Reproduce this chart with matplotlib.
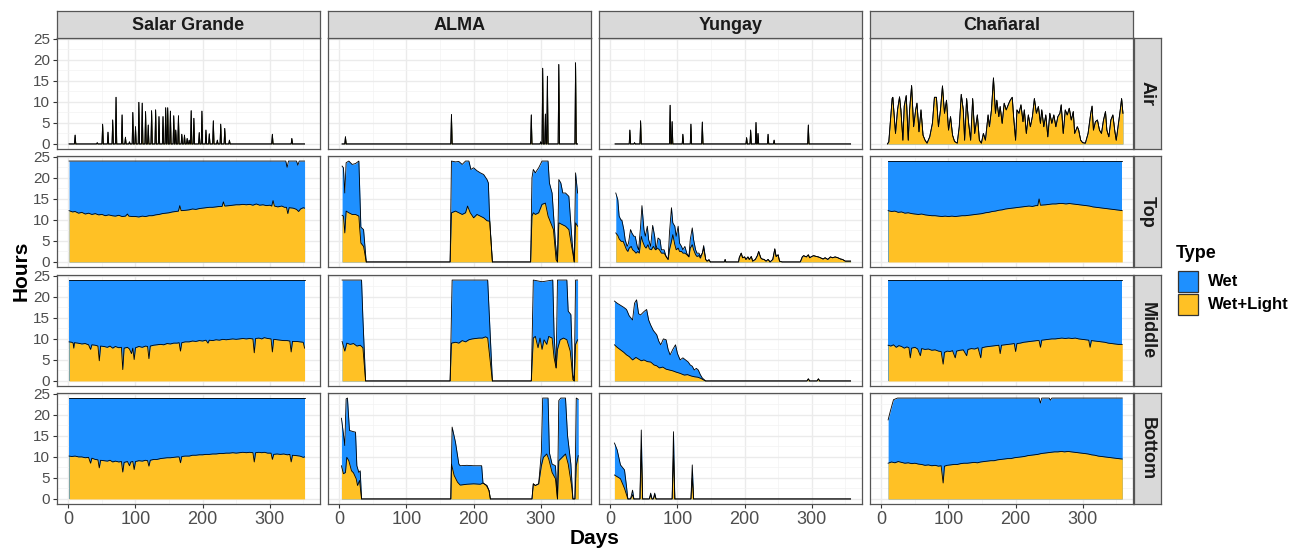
import matplotlib
matplotlib.use('Agg')
import numpy as np
import matplotlib.pyplot as plt
from matplotlib.patches import Rectangle

plt.rcParams['font.family'] = ['Liberation Sans', 'DejaVu Sans']

sites = ['Salar Grande', 'ALMA', 'Yungay', 'Chañaral']
levels = ['Air', 'Top', 'Middle', 'Bottom']
type_labels = ['Wet', 'Wet+Light']

# (day, hours) readings; "wet" is the stacked total, "light" the Wet+Light part

# --- Salar Grande ---
sg_range = (1, 352)
sg_air = [(10, 2.1), (43, 0.3), (51, 4.7), (59, 2.8), (66, 5.7), (71, 11.1), (80, 6.9), (85, 1.6),
          (91, 0.5), (96, 7.5), (100, 4.1), (105, 9.9), (110, 9.7), (115, 7.7), (119, 4.5), (124, 7.9),
          (130, 8.1), (135, 6.5), (141, 6.5), (145, 8.6), (148, 8.6), (152, 7.8), (157, 6.7), (160, 3.3),
          (164, 6.7), (169, 2.3), (173, 2.1), (177, 1.3), (180, 0.9), (183, 7.9), (187, 6.1), (195, 2.7),
          (199, 7.8), (205, 3.3), (210, 2.4), (216, 5.5), (222, 0.9), (227, 4.7), (233, 3.7), (240, 0.9),
          (304, 2.3), (333, 1.3)]
sg_top_wet = [(1, 24), (324, 24), (326, 22.5), (328, 24), (340, 24), (342, 23), (344, 24), (352, 24)]
sg_top_light = [(1, 12.2), (6, 11.9), (10, 12.0), (15, 11.6), (20, 11.8), (25, 11.4), (30, 11.6), (35, 11.3),
                (40, 11.5), (45, 11.2), (50, 11.3), (55, 11.0), (60, 11.2), (65, 11.0), (70, 10.9), (75, 11.1),
                (80, 10.8), (85, 10.9), (88, 11.4), (90, 10.9), (95, 10.8), (100, 10.8), (105, 10.7), (110, 10.9),
                (115, 10.8), (120, 11.0), (125, 11.0), (130, 11.2), (135, 11.3), (140, 11.5), (145, 11.6),
                (150, 11.7), (155, 11.9), (160, 12.0), (164, 12.1), (166, 13.4), (168, 12.2), (175, 12.3),
                (180, 12.4), (185, 12.6), (190, 12.5), (195, 12.7), (200, 12.8), (205, 12.9), (210, 13.0),
                (215, 13.0), (220, 13.1), (225, 13.2), (229, 13.2), (231, 14.3), (233, 13.3), (240, 13.4),
                (245, 13.5), (250, 13.6), (255, 13.6), (260, 13.7), (265, 13.6), (270, 13.7), (275, 13.5),
                (280, 13.8), (285, 13.5), (290, 13.6), (295, 13.4), (300, 13.5), (303, 13.3), (305, 14.6),
                (307, 13.3), (312, 13.1), (318, 13.3), (322, 13.0), (325, 13.0), (327, 11.5), (329, 12.9),
                (335, 12.8), (340, 12.5), (343, 12.0), (346, 12.6), (350, 12.9), (352, 12.8)]
sg_mid_wet = [(1, 24), (352, 24)]
sg_mid_light = [(1, 9.3), (5, 9.2), (7, 9.0), (8, 7.8), (9, 9.1), (14, 9.0), (20, 8.8), (25, 8.9), (30, 8.6),
                (33, 7.5), (35, 8.6), (40, 8.5), (44, 8.3), (46, 4.8), (48, 8.3), (53, 8.2), (58, 8.0), (62, 8.3),
                (66, 7.8), (70, 8.2), (75, 7.9), (79, 8.0), (81, 2.7), (83, 7.8), (88, 8.0), (91, 7.6), (94, 6.5),
                (96, 7.8), (98, 5.1), (100, 7.9), (105, 8.2), (110, 8.0), (115, 8.3), (118, 8.2), (120, 5.3),
                (122, 8.3), (127, 8.5), (132, 8.6), (137, 8.7), (142, 8.6), (147, 8.9), (152, 8.8), (157, 9.0),
                (162, 9.0), (165, 9.1), (167, 7.1), (169, 9.1), (174, 9.3), (180, 9.3), (185, 9.5), (190, 9.4),
                (195, 9.6), (200, 9.5), (205, 9.7), (208, 9.0), (210, 9.7), (215, 9.6), (220, 9.8), (225, 9.7),
                (230, 9.9), (235, 9.8), (240, 9.9), (245, 10.0), (250, 9.9), (255, 10.0), (260, 10.1),
                (265, 10.0), (270, 10.1), (275, 10.0), (277, 6.7), (279, 10.1), (284, 10.2), (288, 10.0),
                (292, 10.3), (297, 10.1), (302, 10.0), (304, 6.9), (306, 9.9), (311, 9.8), (316, 9.7), (321, 9.6),
                (326, 9.6), (330, 9.5), (332, 6.9), (334, 9.4), (340, 9.4), (345, 9.3), (350, 9.2), (352, 7.8)]
sg_bot_wet = [(1, 24), (352, 24)]
sg_bot_light = [(1, 10.2), (5, 10.1), (10, 10.2), (15, 10.0), (20, 10.0), (25, 9.8), (30, 9.9), (33, 8.5),
                (35, 9.7), (40, 9.4), (44, 9.3), (46, 7.4), (48, 9.2), (53, 9.1), (58, 9.0), (62, 9.2), (66, 8.8),
                (70, 9.0), (75, 8.8), (79, 8.9), (81, 6.4), (83, 8.7), (88, 8.9), (91, 7.9), (93, 8.8), (96, 8.9),
                (98, 7.0), (100, 8.9), (105, 9.1), (110, 9.0), (115, 9.2), (118, 9.1), (120, 7.8), (122, 9.2),
                (127, 9.4), (132, 9.4), (137, 9.6), (142, 9.7), (147, 9.8), (152, 9.8), (157, 9.9), (162, 10.0),
                (165, 10.0), (167, 8.6), (169, 10.1), (174, 10.2), (180, 10.2), (185, 10.4), (190, 10.4),
                (195, 10.5), (200, 10.5), (205, 10.6), (210, 10.6), (215, 10.7), (220, 10.7), (225, 10.8),
                (230, 10.8), (235, 10.9), (240, 10.9), (245, 11.0), (250, 10.9), (255, 11.0), (260, 11.1),
                (265, 11.0), (270, 11.1), (275, 11.0), (277, 8.8), (279, 11.0), (284, 11.1), (288, 11.0),
                (292, 11.1), (297, 10.9), (302, 10.9), (304, 9.4), (306, 10.6), (311, 10.7), (316, 10.6),
                (321, 10.7), (326, 10.5), (330, 10.6), (332, 8.8), (334, 10.4), (340, 10.3), (345, 10.2),
                (350, 9.9), (352, 10.0)]

# --- ALMA ---
al_range = (4, 355)
al_air = [(9, 1.7), (167, 7.0), (286, 6.9), (300, 0.5), (303, 18.0), (307, 7.1), (310, 16.1), (327, 18.9),
          (352, 19.3)]
al_top_wet = [(4, 22.8), (6, 22.4), (8, 16.4), (10, 23.6), (14, 24), (19, 23.2), (24, 23.4), (29, 24),
              (30, 18.8), (32, 8.3), (36, 7.7), (40, 0), (165, 0), (167, 24), (173, 23.8), (178, 23.9),
              (183, 23.2), (188, 24), (193, 24), (196, 22), (200, 22.4), (205, 21.7), (210, 21.2), (215, 20.8),
              (220, 19.6), (222, 18.8), (224, 10), (228, 0), (285, 0), (287, 20), (289, 22), (292, 21.2),
              (297, 22.4), (302, 24), (307, 24), (311, 24), (313, 18.8), (317, 16.4), (322, 4.5), (325, 0),
              (327, 19.6), (330, 18.8), (333, 16.4), (337, 16.4), (342, 15.6), (347, 4.5), (350, 0), (352, 21.2),
              (355, 16.4)]
al_top_light = [(4, 11.1), (6, 10.9), (8, 6.9), (10, 12.1), (14, 11.7), (19, 11.3), (24, 11.3), (29, 10.9),
                (30, 8.5), (32, 4.5), (36, 3.7), (40, 0), (165, 0), (167, 11.7), (173, 12.1), (178, 11.7),
                (183, 11.3), (188, 11.7), (191, 13.3), (195, 11.7), (200, 10.5), (205, 11.3), (210, 10.9),
                (215, 10.5), (220, 9.8), (224, 9.7), (228, 0), (285, 0), (287, 10.9), (289, 11.7), (292, 11.3),
                (297, 11.7), (302, 13.7), (307, 14), (311, 10.9), (314, 9.7), (319, 7.7), (323, 0.5), (325, 0),
                (327, 9.3), (332, 8.9), (337, 8.5), (342, 7.7), (347, 2.9), (350, 0), (352, 9.3), (355, 8.5)]
al_mid_wet = [(4, 24), (33, 24), (35, 15), (39, 0), (165, 0), (168, 24), (221, 24), (228, 0), (286, 0),
              (289, 24), (302, 23.6), (318, 24), (320, 11), (323, 3.1), (325, 24), (339, 24), (341, 16.6),
              (345, 15.8), (348, 1.5), (350, 0), (352, 24), (355, 24)]
al_mid_light = [(4, 9.4), (8, 7.1), (11, 9.0), (16, 8.7), (21, 8.9), (26, 8.3), (31, 8.5), (35, 7.9), (39, 0),
                (165, 0), (167, 9.0), (173, 9.2), (178, 9.0), (183, 9.6), (188, 9.3), (193, 9.8), (198, 10.0),
                (203, 10.1), (208, 10.2), (213, 10.2), (218, 10.5), (221, 10.2), (228, 0), (286, 0), (289, 10.2),
                (292, 10.6), (296, 7.9), (299, 10.2), (302, 7.5), (305, 9.8), (309, 8.7), (312, 10.6),
                (317, 10.2), (320, 5.5), (323, 3.1), (325, 7.5), (329, 9.8), (334, 10.2), (339, 9.8), (344, 7.1),
                (346, 3.9), (348, 0.3), (350, 0), (352, 8.7), (355, 9.8)]
al_bot_wet = [(3, 19.2), (6, 15.5), (8, 12.7), (10, 23.8), (12, 24), (15, 16.3), (21, 16), (24, 15.9), (26, 7.9),
              (29, 6.3), (31, 6.7), (33, 0), (166, 0), (168, 17.1), (173, 13.5), (178, 8.3), (180, 7.9),
              (190, 8.0), (200, 7.9), (212, 7.9), (214, 3.8), (220, 3.2), (223, 2), (225, 0), (287, 0),
              (289, 3.6), (292, 3.2), (297, 3.6), (301, 11.1), (303, 24), (311, 24), (313, 11), (317, 8.3),
              (322, 7.9), (325, 0), (327, 23.4), (330, 24), (337, 24), (340, 15.1), (345, 8.3), (348, 0),
              (351, 0), (353, 24), (356, 23.7)]
al_bot_light = [(3, 7.9), (6, 6), (9, 6.3), (11, 9.9), (14, 9.1), (18, 6.7), (21, 6.2), (25, 4.8), (27, 3.2),
                (30, 4.4), (33, 0), (166, 0), (167, 8.3), (171, 5.6), (176, 4), (180, 3.3), (190, 3.5),
                (200, 3.6), (210, 3.5), (214, 3.8), (219, 3.2), (223, 2), (225, 0), (287, 0), (289, 3.6),
                (292, 3.2), (297, 3.6), (301, 7.9), (304, 9.9), (309, 10.7), (312, 9.5), (317, 6.3), (322, 4.8),
                (325, 0), (327, 9.1), (332, 9.9), (337, 10.7), (341, 8.3), (346, 3.2), (348, 0), (351, 0),
                (353, 7.9), (356, 10.3)]

# --- Yungay ---
yu_range = (7, 358)
yu_air = [(29, 3.3), (36, 0.3), (45, 5.5), (89, 9.2), (92, 5.3), (108, 2.3), (120, 4.7), (137, 5.2),
          (203, 1.5), (209, 3.3), (217, 5.1), (220, 2.5), (235, 2.3), (244, 0.9), (295, 4.5)]
yu_top_wet = [(8, 16.4), (11, 14.8), (13, 10.9), (16, 9.9), (17, 10.0), (20, 7.7), (22, 5.3), (25, 3.7),
              (27, 4.5), (30, 7.7), (32, 6.9), (35, 6.1), (37, 6.1), (40, 3.7), (42, 2.9), (45, 8.5), (47, 13.4),
              (50, 7.7), (52, 6.1), (55, 8.5), (57, 5.3), (60, 3.7), (63, 8.7), (66, 6.1), (68, 2.9), (71, 5.7),
              (74, 5.3), (76, 2.9), (80, 2.9), (83, 1.3), (86, 0.6), (88, 6.9), (91, 12.9), (93, 9.3), (96, 8.5),
              (98, 6.1), (101, 8.5), (103, 4.5), (106, 3.7), (108, 2.9), (111, 3.7), (114, 2.0), (117, 1.3),
              (119, 5.3), (122, 8.1), (124, 5.3), (127, 2.9), (129, 2.1), (132, 2.1), (134, 1.3), (137, 2.1),
              (139, 3.9), (142, 0.6), (144, 0.2), (147, 0.6), (149, 0)]
yu_top_light = [(8, 6.9), (11, 6.3), (13, 5.5), (16, 4.9), (19, 4.9), (21, 4.1), (24, 2.9), (26, 2.5),
                (28, 3.3), (31, 3.7), (33, 2.9), (36, 2.5), (38, 2.1), (41, 2.5), (43, 2.1), (46, 6.1), (48, 4.9),
                (51, 3.7), (53, 3.3), (56, 4.1), (58, 3.1), (61, 2.9), (64, 3.7), (67, 2.9), (70, 3.3), (73, 2.9),
                (76, 2.1), (80, 2.1), (83, 1.3), (86, 0.6), (88, 2.9), (91, 4.9), (93, 6.5), (96, 4.1), (98, 2.9),
                (101, 3.3), (103, 2.5), (106, 2.5), (108, 2.1), (111, 2.1), (114, 1.7), (117, 1.2), (119, 3.3),
                (122, 4.1), (124, 2.9), (127, 1.7), (129, 1.3), (132, 1.5), (134, 0.9), (137, 2.1), (139, 3.3),
                (142, 0.6), (144, 0.2), (147, 0.4), (149, 0)]
yu_top_tail = [(170, 0), (171, 0.6), (172, 0), (191, 0), (192, 1.0), (195, 2.1), (197, 1.0), (200, 1.2),
               (202, 0.6), (205, 1.2), (207, 0.6), (210, 1.3), (212, 0.2), (216, 0.6), (219, 1.5), (221, 2.5),
               (224, 1.0), (226, 0.7), (229, 0.6), (232, 0.2), (235, 0.6), (238, 0), (242, 0.6), (245, 3.1),
               (247, 1.3), (250, 1.7), (252, 0.2), (256, 0), (283, 0), (286, 1.2), (288, 1.5), (292, 1.2),
               (295, 1.7), (297, 1.0), (300, 1.3), (303, 1.5), (307, 1.3), (310, 1.2), (313, 1.0), (317, 0.7),
               (320, 1.0), (324, 0.6), (328, 1.2), (331, 1.0), (335, 1.2), (339, 1.0), (343, 0.7), (346, 0.6),
               (350, 0.2), (354, 0.2), (358, 0.2)]
yu_mid_wet = [(6, 19), (10, 18.5), (15, 18), (20, 17.5), (24, 17), (28, 15.5), (33, 14.5), (36, 18.5),
              (39, 19.3), (42, 16), (45, 15.7), (50, 16.5), (54, 17), (57, 14.5), (60, 13.3), (64, 12), (69, 11),
              (72, 9.5), (75, 8.6), (79, 10), (83, 9.8), (86, 7.5), (89, 6.2), (93, 7.5), (97, 8.6), (100, 6.5),
              (104, 5), (108, 5.5), (112, 5), (116, 4.5), (119, 3.8), (122, 3.5), (125, 2.6), (128, 3.0),
              (131, 2.6), (134, 1.5), (137, 0.7), (142, 0), (293, 0), (295, 0.5), (297, 0), (308, 0), (310, 0.5),
              (312, 0), (358, 0)]
yu_mid_light = [(6, 8.6), (10, 8.0), (15, 7.4), (20, 6.8), (24, 6.2), (28, 5.8), (33, 5.0), (38, 5.6),
                (42, 5.2), (46, 4.8), (50, 5.0), (55, 4.6), (60, 4.5), (65, 3.8), (69, 3.6), (73, 3.1), (78, 3.3),
                (83, 2.8), (88, 2.6), (93, 2.4), (98, 2.1), (104, 1.8), (110, 1.4), (115, 1.5), (120, 1.2),
                (125, 1.0), (130, 0.9), (135, 0.6), (138, 0.3), (142, 0), (293, 0), (295, 0.5), (297, 0),
                (308, 0), (310, 0.5), (312, 0), (358, 0)]
yu_bot_wet = [(6, 13.3), (10, 11.7), (15, 8.1), (21, 6.9), (24, 3), (26, 0), (30, 0), (33, 2.1), (35, 0),
              (44, 0), (46, 16.4), (48, 0), (58, 0), (60, 1.4), (62, 0), (64, 0), (66, 1.4), (68, 0), (92, 0),
              (94, 16), (96, 0), (120, 0), (122, 8.1), (124, 0), (358, 0)]
yu_bot_light = [(6, 5.7), (10, 5.3), (15, 4.8), (21, 2.5), (24, 1), (26, 0), (30, 0), (33, 1.0), (35, 0),
                (44, 0), (46, 11.7), (48, 0), (58, 0), (60, 1.0), (62, 0), (64, 0), (66, 1.0), (68, 0), (92, 0),
                (94, 10.5), (96, 0), (120, 0), (122, 5), (124, 0), (358, 0)]

# --- Chañaral ---
ch_air = [(9, 0), (11, 0.5), (16, 10.8), (17, 11.1), (21, 2.5), (24, 8.1), (27, 11.2), (29, 8.1), (32, 0.9),
          (34, 9.0), (37, 11.5), (40, 0.9), (42, 8.1), (45, 13.9), (48, 4.1), (51, 8.1), (53, 9.7), (56, 2.9),
          (59, 8.1), (62, 2.1), (65, 0.9), (68, 0.2), (72, 1.7), (76, 4.9), (79, 11.1), (82, 11.1), (85, 4.1),
          (88, 8.1), (91, 13.8), (94, 7.3), (97, 10.4), (100, 3.3), (103, 6.5), (106, 2.1), (109, 0.6),
          (113, 0.2), (116, 4.1), (119, 11.8), (122, 8.1), (124, 0.9), (127, 10.8), (130, 4.9), (133, 0.9),
          (136, 10.8), (139, 2.5), (143, 6.9), (146, 0.9), (149, 0.2), (152, 2.5), (155, 0.9), (159, 6.9),
          (161, 4.1), (164, 8.1), (167, 15.7), (170, 7.3), (172, 10.4), (175, 6.5), (177, 8.9), (180, 4.9),
          (183, 9.7), (186, 8.1), (190, 9.7), (192, 10.4), (195, 11.1), (197, 6.5), (200, 0.9), (202, 8.1),
          (205, 7.3), (208, 9.3), (211, 5.3), (213, 8.1), (216, 2.5), (219, 6.9), (222, 4.1), (225, 6.5),
          (228, 10.8), (231, 7.3), (234, 8.9), (237, 4.9), (239, 8.1), (242, 4.1), (245, 6.9), (248, 1.7),
          (251, 7.3), (254, 4.9), (257, 6.9), (260, 4.1), (263, 6.5), (266, 7.3), (268, 9.3), (271, 2.5),
          (274, 8.1), (277, 6.9), (280, 8.5), (283, 5.7), (286, 7.7), (288, 2.5), (292, 4.1), (294, 3.3),
          (297, 0.9), (300, 0.3), (304, 0.2), (308, 2.5), (312, 7.3), (314, 9.0), (316, 3.3), (319, 5.3),
          (322, 5.7), (325, 3.3), (328, 2.5), (331, 5.7), (334, 7.7), (336, 3.3), (339, 1.7), (342, 5.7),
          (345, 6.9), (348, 2.9), (350, 0.9), (354, 5.7), (356, 8.1), (358, 10.8), (360, 7.3)]
ch_top_wet = [(10, 24), (359, 24)]
ch_top_light = [(10, 12.2), (15, 12.0), (20, 12.1), (25, 11.8), (30, 11.9), (35, 11.6), (40, 11.7), (45, 11.5),
                (50, 11.4), (55, 11.3), (60, 11.4), (65, 11.2), (70, 11.1), (75, 11.0), (80, 11.0), (85, 10.9),
                (90, 10.8), (95, 10.9), (100, 10.8), (105, 10.9), (110, 10.8), (115, 10.9), (120, 11.0),
                (125, 11.0), (130, 11.1), (135, 11.2), (140, 11.3), (145, 11.4), (150, 11.5), (155, 11.7),
                (160, 11.8), (165, 12.0), (170, 12.1), (175, 12.3), (180, 12.4), (185, 12.6), (190, 12.7),
                (195, 12.8), (200, 12.9), (205, 13.0), (210, 13.1), (215, 13.2), (220, 13.3), (225, 13.2),
                (230, 13.4), (233, 13.4), (235, 15.0), (237, 13.5), (245, 13.6), (250, 13.7), (255, 13.8),
                (260, 13.8), (265, 13.9), (270, 13.9), (275, 13.8), (280, 13.9), (285, 13.8), (290, 13.7),
                (295, 13.6), (300, 13.5), (305, 13.4), (310, 13.3), (315, 13.1), (320, 13.0), (325, 12.9),
                (330, 12.8), (335, 12.7), (340, 12.6), (345, 12.5), (350, 12.4), (355, 12.3), (359, 12.2)]
ch_mid_wet = [(10, 24), (359, 24)]
ch_mid_light = [(10, 8.5), (14, 8.3), (18, 8.6), (22, 8.0), (26, 8.4), (30, 8.2), (34, 7.8), (38, 8.1),
                (41, 7.9), (43, 5.5), (45, 7.8), (50, 8.0), (54, 7.6), (58, 6.0), (60, 7.7), (65, 7.5), (70, 7.6),
                (75, 7.3), (80, 7.4), (85, 7.1), (89, 7.0), (92, 4.0), (94, 6.8), (98, 7.1), (102, 7.0),
                (106, 7.2), (110, 5.5), (112, 7.1), (117, 7.3), (122, 7.4), (127, 6.0), (129, 7.5), (134, 7.7),
                (139, 7.6), (144, 7.9), (148, 5.5), (150, 7.9), (155, 8.1), (160, 8.2), (165, 8.3), (170, 8.4),
                (175, 8.5), (177, 6.5), (179, 8.5), (184, 8.6), (189, 8.7), (194, 8.8), (198, 8.9), (200, 7.0),
                (202, 8.9), (207, 9.0), (212, 9.2), (217, 9.3), (222, 9.4), (227, 9.5), (232, 9.6), (235, 9.6),
                (237, 8.0), (239, 9.7), (244, 9.8), (249, 9.9), (254, 10.0), (259, 10.0), (264, 10.1),
                (269, 10.2), (274, 10.1), (279, 10.2), (284, 10.1), (289, 10.2), (294, 10.0), (299, 9.9),
                (304, 9.8), (309, 9.7), (311, 8.0), (313, 9.6), (318, 9.5), (323, 9.4), (328, 9.3), (333, 9.2),
                (338, 9.0), (343, 8.9), (348, 8.8), (353, 8.7), (359, 8.7)]
ch_bot_wet = [(10, 18.8), (13, 20.7), (18, 23.6), (24, 24), (235, 24), (237, 22.8), (239, 24), (250, 24),
              (252, 23.5), (254, 24), (359, 24)]
ch_bot_light = [(10, 8.5), (15, 8.8), (20, 8.6), (25, 8.9), (30, 8.7), (35, 8.5), (40, 8.6), (45, 8.4),
                (50, 8.5), (55, 8.3), (60, 8.2), (65, 8.0), (70, 8.1), (75, 7.9), (80, 8.0), (85, 7.8), (89, 7.9),
                (92, 3.8), (94, 7.8), (98, 8.0), (103, 8.1), (108, 8.2), (113, 8.2), (118, 8.4), (123, 8.5),
                (128, 8.5), (133, 8.6), (138, 8.7), (143, 8.6), (148, 8.8), (153, 8.9), (158, 9.0), (163, 9.1),
                (168, 9.1), (173, 9.3), (178, 9.4), (183, 9.5), (188, 9.6), (193, 9.6), (198, 9.8), (203, 9.9),
                (208, 10.0), (213, 10.1), (218, 10.3), (223, 10.4), (228, 10.5), (233, 10.6), (238, 10.8),
                (243, 10.9), (248, 11.0), (253, 11.1), (258, 11.2), (263, 11.2), (268, 11.3), (273, 11.2),
                (278, 11.3), (283, 11.2), (288, 11.1), (293, 11.0), (298, 10.9), (303, 10.8), (308, 10.7),
                (313, 10.5), (318, 10.4), (323, 10.2), (328, 10.1), (333, 10.0), (338, 9.9), (343, 9.8),
                (348, 9.7), (353, 9.6), (359, 9.5)]


def spikes(pairs, day_range):
    # daily series: zero except the listed days
    pts = [(day_range[0], 0)]
    for d, h in pairs:
        pts += [(d - 1, 0), (d, h), (d + 1, 0)]
    pts.append((day_range[1], 0))
    return pts


panels = {
    ('Salar Grande', 'Air'): (spikes(sg_air, sg_range), spikes(sg_air, sg_range)),
    ('Salar Grande', 'Top'): (sg_top_wet, sg_top_light),
    ('Salar Grande', 'Middle'): (sg_mid_wet, sg_mid_light),
    ('Salar Grande', 'Bottom'): (sg_bot_wet, sg_bot_light),
    ('ALMA', 'Air'): (spikes(al_air, al_range), spikes(al_air, al_range)),
    ('ALMA', 'Top'): (al_top_wet, al_top_light),
    ('ALMA', 'Middle'): (al_mid_wet, al_mid_light),
    ('ALMA', 'Bottom'): (al_bot_wet, al_bot_light),
    ('Yungay', 'Air'): (spikes(yu_air, yu_range), spikes(yu_air, yu_range)),
    ('Yungay', 'Top'): (yu_top_wet + yu_top_tail, yu_top_light + yu_top_tail),
    ('Yungay', 'Middle'): (yu_mid_wet, yu_mid_light),
    ('Yungay', 'Bottom'): (yu_bot_wet, yu_bot_light),
    ('Chañaral', 'Air'): (ch_air, ch_air),
    ('Chañaral', 'Top'): (ch_top_wet, ch_top_light),
    ('Chañaral', 'Middle'): (ch_mid_wet, ch_mid_light),
    ('Chañaral', 'Bottom'): (ch_bot_wet, ch_bot_light),
}

BLUE = '#1E90FF'
YELLOW = '#FFC125'
W, H = 1306, 549
fig = plt.figure(figsize=(W / 100, H / 100), dpi=100)


def box(x, y, w, h):
    return [x / W, 1 - (y + h) / H, w / W, h / H]


col_left = [57, 328, 599, 870]
row_top = [38, 156, 275, 393]
pw, ph = 263, 111

for i, site in enumerate(sites):
    for j, level in enumerate(levels):
        ax = fig.add_axes(box(col_left[i], row_top[j], pw, ph))
        wet, light = panels[(site, level)]
        d, v = np.array(wet, dtype=float).T
        ax.fill_between(d, 0, v, color=BLUE, lw=0)
        ax.plot(d, v, color='black', lw=0.6)
        d, v = np.array(light, dtype=float).T
        ax.fill_between(d, 0, v, color=YELLOW, lw=0)
        ax.plot(d, v, color='black', lw=0.6)

        ax.set_xlim(-17, 375)
        ax.set_ylim(-1.2, 25.2)
        ax.set_xticks([0, 100, 200, 300])
        ax.set_xticks([50, 150, 250, 350], minor=True)
        ax.set_yticks([0, 5, 10, 15, 20, 25])
        ax.set_yticks([2.5, 7.5, 12.5, 17.5, 22.5], minor=True)
        ax.grid(which='major', color='#EBEBEB', lw=1.0)
        ax.grid(which='minor', color='#F3F3F3', lw=0.5)
        ax.set_axisbelow(True)
        for s in ax.spines.values():
            s.set_color('#555555')
            s.set_linewidth(0.9)
        ax.tick_params(which='minor', length=0)
        ax.tick_params(which='major', color='#333333', width=0.8, labelcolor='#4D4D4D')
        ax.tick_params(axis='y', length=3 if i == 0 else 0, labelleft=(i == 0), labelsize=11, pad=2)
        ax.tick_params(axis='x', length=3 if j == 3 else 0, labelbottom=(j == 3), labelsize=13, pad=2)

        if j == 0:
            sax = fig.add_axes(box(col_left[i], 11, pw, 27))
            sax.set_facecolor('#D9D9D9')
            sax.set_xticks([])
            sax.set_yticks([])
            for s in sax.spines.values():
                s.set_color('#555555')
                s.set_linewidth(0.9)
            sax.text(0.5, 0.48, site, ha='center', va='center', fontsize=13, fontweight='bold',
                     color='#1A1A1A', transform=sax.transAxes)
        if i == 3:
            sax = fig.add_axes(box(1134, row_top[j], 27, ph))
            sax.set_facecolor('#D9D9D9')
            sax.set_xticks([])
            sax.set_yticks([])
            for s in sax.spines.values():
                s.set_color('#555555')
                s.set_linewidth(0.9)
            sax.text(0.5, 0.5, level, ha='center', va='center', rotation=-90, fontsize=13,
                     fontweight='bold', color='#1A1A1A', transform=sax.transAxes)

fig.text(595 / W, 1 - 539 / H, 'Days', ha='center', va='center', fontsize=15, fontweight='bold')
fig.text(21 / W, 1 - 271 / H, 'Hours', ha='center', va='center', rotation=90, fontsize=15,
         fontweight='bold')

# legend
fig.text(1176 / W, 1 - 254 / H, 'Type', ha='left', va='center', fontsize=13, fontweight='bold')
for k, (lab, col) in enumerate(zip(type_labels, [BLUE, YELLOW])):
    y0 = 271 + k * 22.5
    fig.add_artist(Rectangle((1178 / W, 1 - (y0 + 21) / H), 20 / W, 21 / H, transform=fig.transFigure,
                             facecolor=col, edgecolor='#333333', lw=0.9))
    fig.text(1208 / W, 1 - (y0 + 10.5) / H, lab, ha='left', va='center', fontsize=12, fontweight='bold')

fig.savefig('out.png', dpi=100)
